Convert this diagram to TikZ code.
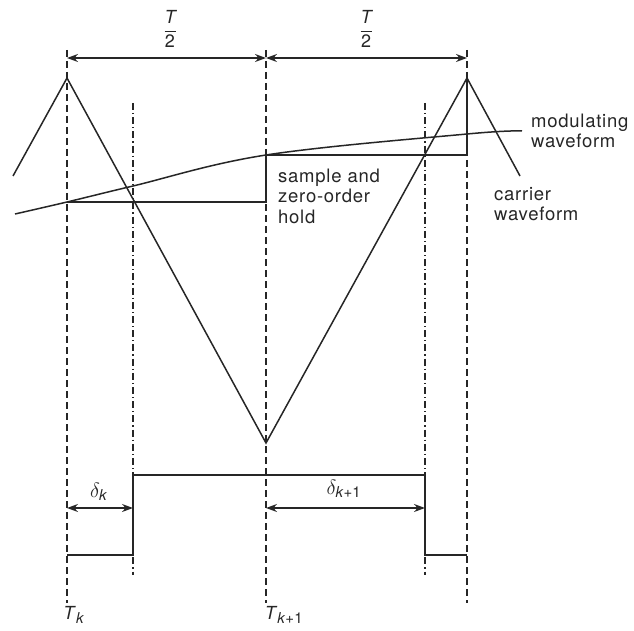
\documentclass[tikz,border=0pt]{standalone}
\usepackage{fontspec}
\setmainfont{TeX Gyre Heros}
\usetikzlibrary{arrows.meta}
\newcommand{\subsz}[1]{\mbox{\fontsize{15}{15}\selectfont #1}}
\begin{document}
\begin{tikzpicture}[x=1pt,y=-1pt,
  ink/.style={draw=black!85},
  wave/.style={ink, line width=1.5pt, line join=miter},
  guide/.style={ink, line width=1.1pt, dash pattern=on 7pt off 4pt},
  dguide/.style={ink, line width=1.1pt, dash pattern=on 7pt off 3pt on 1.2pt off 3pt},
  dim/.style={ink, line width=1.3pt, {Stealth[length=11pt,width=8pt]}-{Stealth[length=11pt,width=8pt]}},
  lbl/.style={text=black!85, font=\fontsize{18.5}{20.5}\selectfont\addfontfeature{LetterSpace=4}, align=left, inner sep=0pt},
  mlbl/.style={text=black!85, font=\fontsize{18}{20}\selectfont, inner sep=0pt},
  dlbl/.style={text=black!85, font=\fontsize{21}{21}\selectfont, inner sep=0pt}
]
\useasboundingbox (0,0) rectangle (634,631);

% key coordinates
\coordinate (tkTop) at (67,50);   \coordinate (tkBot) at (67,603);
\coordinate (tk1Top) at (266,50); \coordinate (tk1Bot) at (266,603);
\coordinate (tk2Top) at (467,50); \coordinate (tk2Bot) at (467,603);
\coordinate (dkTop) at (133,103); \coordinate (dkBot) at (133,575);
\coordinate (dk1Top) at (425,103); \coordinate (dk1Bot) at (425,575);

% guide lines
\draw[guide] (tkTop) -- (tkBot);
\draw[guide] (tk1Top) -- (tk1Bot);
\draw[guide] (tk2Top) -- (tk2Bot);
\draw[dguide] (dkTop) -- (dkBot);
\draw[dguide] (dk1Top) -- (dk1Bot);

% carrier
\coordinate (c0) at (13,176);
\coordinate (p1) at (67,78);
\coordinate (v1) at (266,443);
\coordinate (p2) at (467,78);
\coordinate (c1) at (520,176);
\draw[wave] (c0) -- (p1) -- (v1) -- (p2) -- (c1);

% modulating waveform
\draw[wave] plot[smooth, tension=0.6] coordinates {(15,214) (67,202) (133,186) (266,155) (467,134) (522,131)};

% sample and zero-order hold
\coordinate (h0) at (67,202);
\coordinate (h1) at (266,202);
\coordinate (h2) at (266,155);
\coordinate (h3) at (467,155);
\draw[wave, line width=1.3pt] (h0) -- (h1) -- (h2) -- (h3) -- (p2);

% top dimensions
\coordinate (a0) at (67,58); \coordinate (a1) at (266,58); \coordinate (a2) at (467,58);
\draw[dim] (a0) -- (a1);
\draw[dim] (a1) -- (a2);
\node[mlbl] (half1) at (170,29) {$\displaystyle\frac{\textit{T}}{\mbox{2}}$};
\node[mlbl] (half2) at (366,29) {$\displaystyle\frac{\textit{T}}{\mbox{2}}$};

% PWM pulse
\coordinate (q0) at (67,555);
\coordinate (q1) at (133,555);
\coordinate (q2) at (133,475);
\coordinate (q3) at (425,475);
\coordinate (q4) at (425,555);
\coordinate (q5) at (467,555);
\draw[wave, line width=1.3pt] (q0) -- (q1) -- (q2) -- (q3) -- (q4) -- (q5);

% delta dimensions
\coordinate (b0) at (67,508); \coordinate (b1) at (133,508);
\coordinate (b2) at (266,508); \coordinate (b3) at (425,508);
\draw[dim] (b0) -- (b1);
\draw[dim] (b2) -- (b3);
\node[dlbl, anchor=base] (dlk) at (99,497) {$\delta_{\subsz{\textit{k}}}$};
\node[dlbl, anchor=base] (dlk1) at (344,494) {$\delta_{\subsz{\textit{k}+1}}$};

% time labels
\node[mlbl, anchor=base] (Tk) at (74,619) {\textit{T}$_{\subsz{\textit{k}}}$};
\node[mlbl, anchor=base] (Tk1) at (284,619) {\textit{T}$_{\subsz{\textit{k}+1}}$};

% text labels
\node[lbl, anchor=west] (modl) at (531,131) {modulating\\waveform};
\node[lbl, anchor=west] (carl) at (494,204) {carrier\\waveform};
\node[lbl, anchor=west] (shl) at (278,196) {sample and\\zero-order\\hold};
\end{tikzpicture}
\end{document}
